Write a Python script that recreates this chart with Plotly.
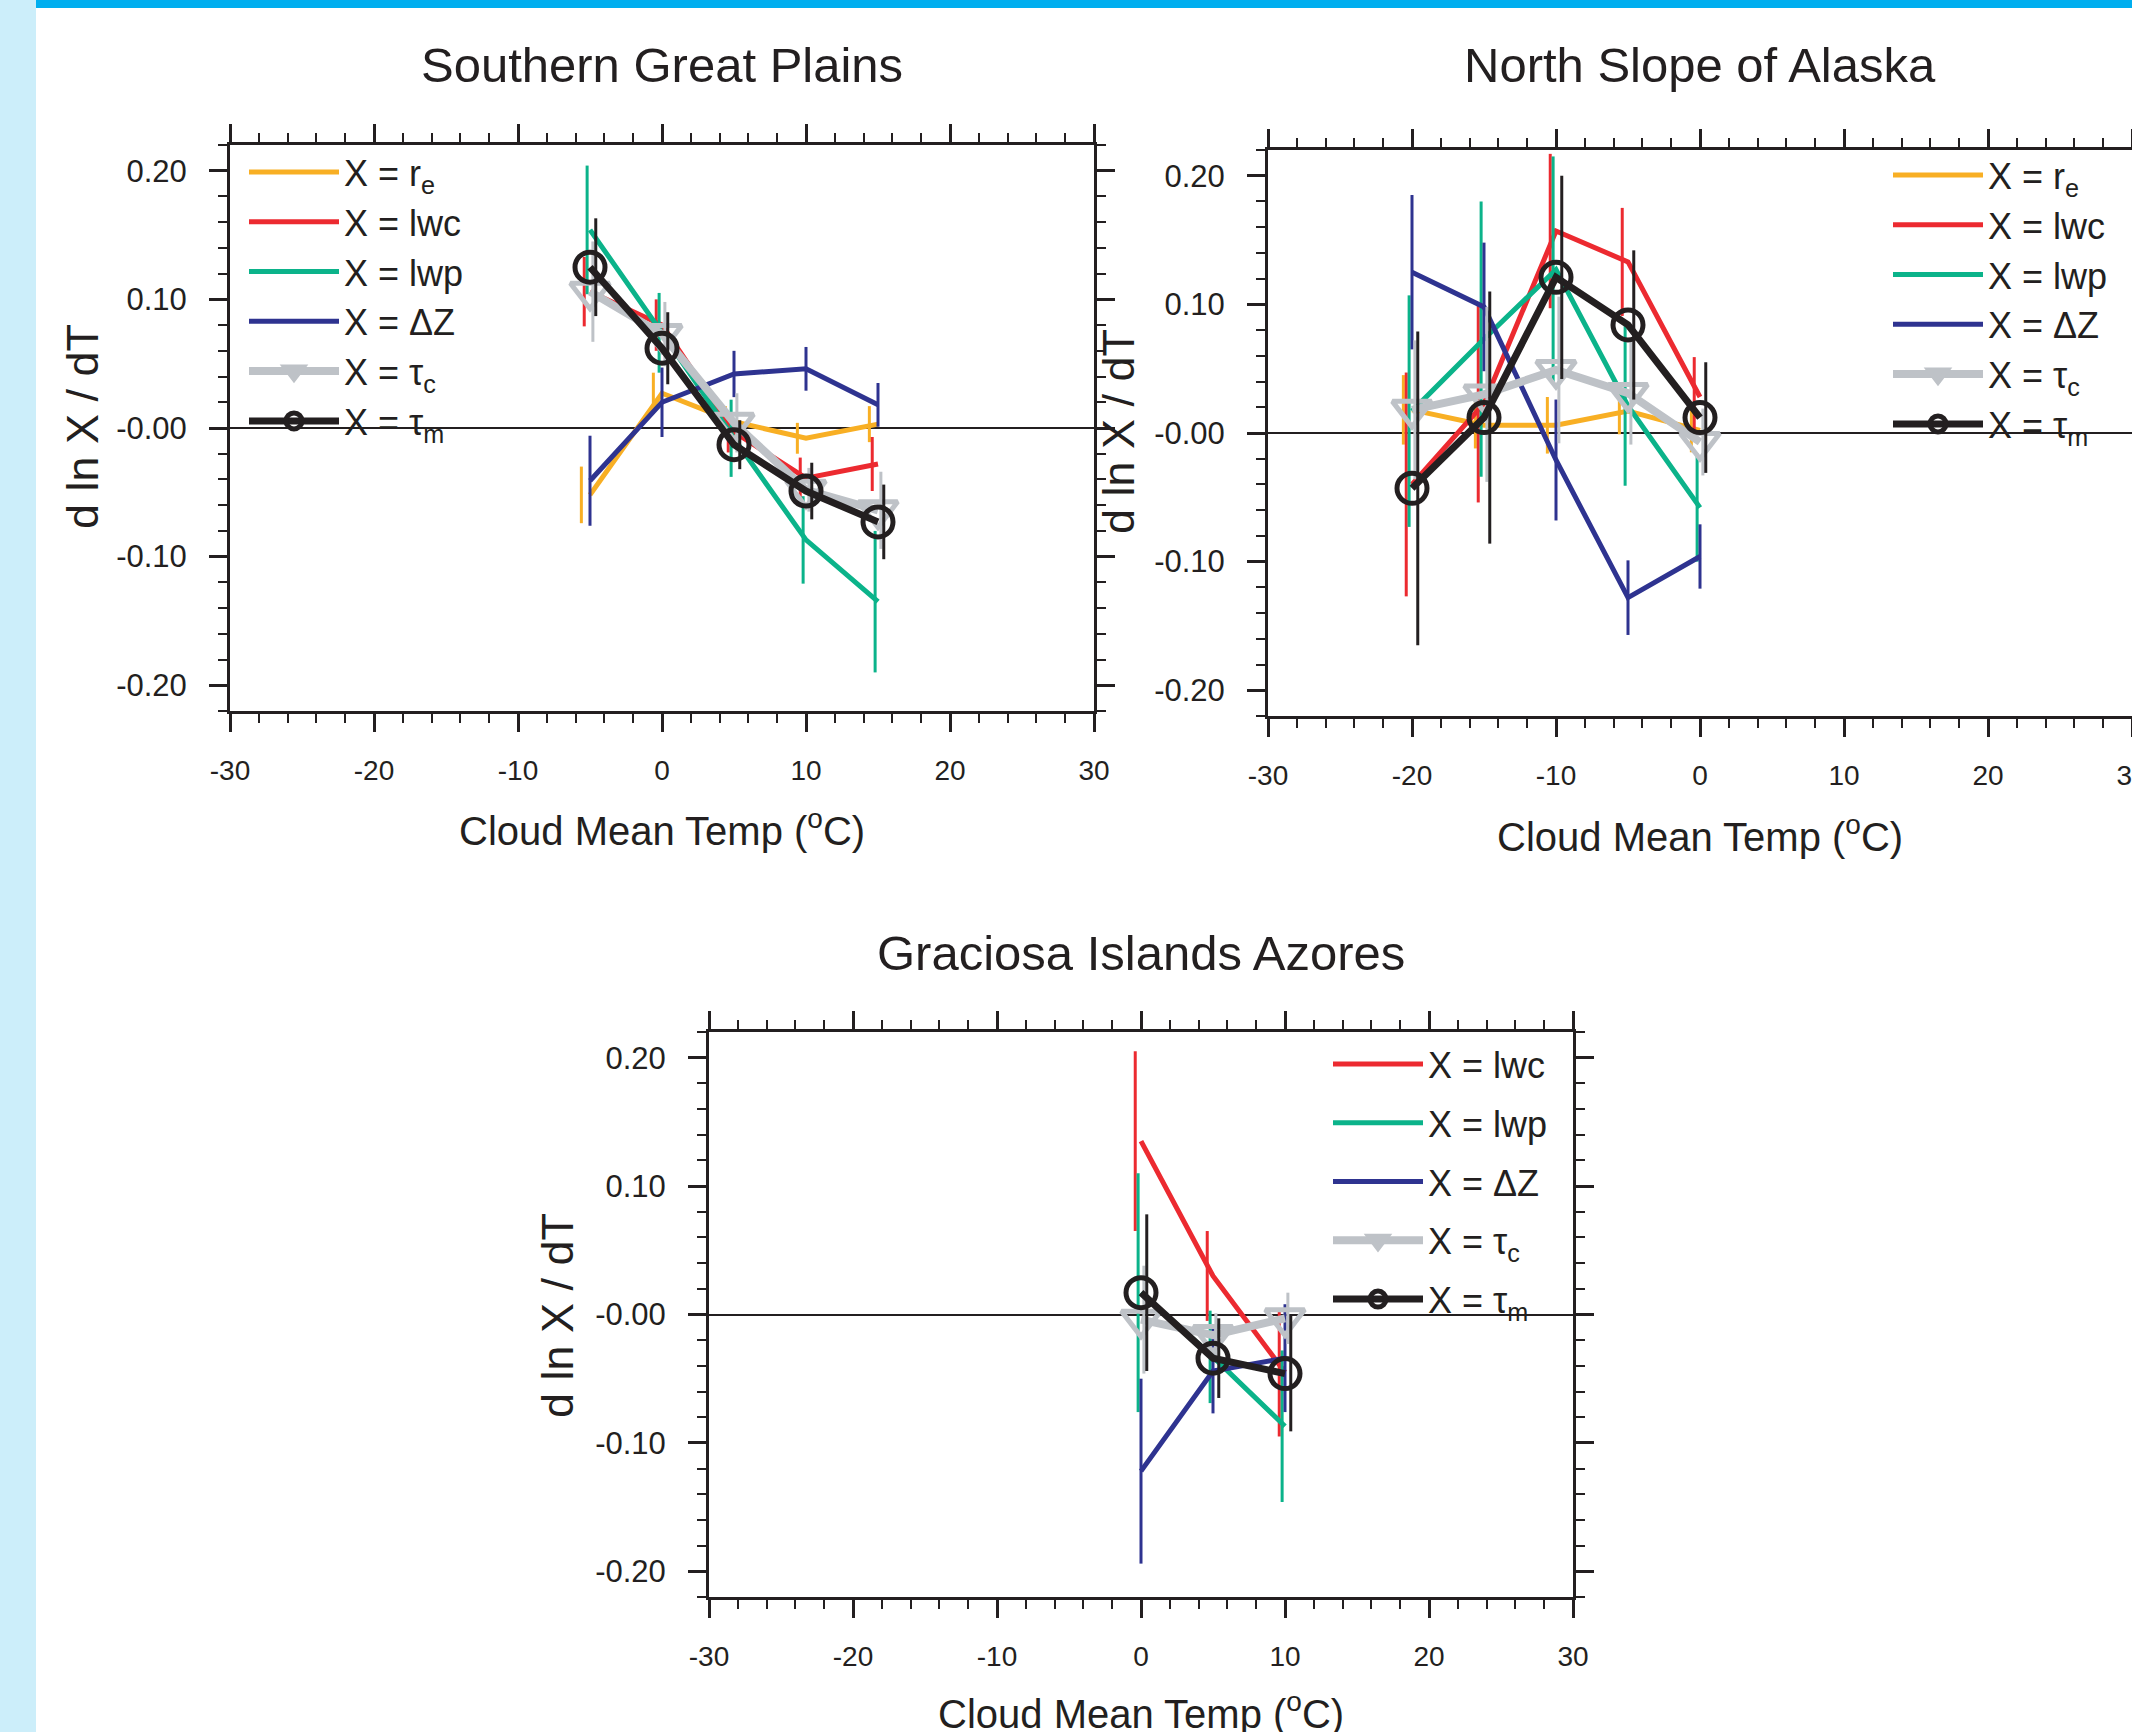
import plotly.graph_objects as go

# ---------------- data ----------------
temps_sgp = [-5, 0, 5, 10, 15]
sgp_re = [-0.052, 0.027, 0.005, -0.008, 0.003]
sgp_re_err = [0.022, 0.016, 0.012, 0.012, 0.014]
sgp_lwc = [0.106, 0.080, -0.003, -0.039, -0.028]
sgp_lwc_err = [0.027, 0.020, 0.016, 0.016, 0.021]
sgp_lwp = [0.154, 0.074, -0.008, -0.087, -0.135]
sgp_lwp_err = [0.050, 0.031, 0.030, 0.034, 0.055]
sgp_dz = [-0.041, 0.020, 0.042, 0.046, 0.018]
sgp_dz_err = [0.035, 0.027, 0.018, 0.017, 0.017]
sgp_tc = [0.106, 0.073, 0.004, -0.048, -0.064]
sgp_tc_err = [0.039, 0.025, 0.023, 0.017, 0.030]
sgp_tm = [0.125, 0.062, -0.013, -0.049, -0.073]
sgp_tm_err = [0.038, 0.028, 0.019, 0.022, 0.029]

temps_nsa = [-20, -15, -10, -5, 0]
nsa_re = [0.018, 0.006, 0.006, 0.017, 0.002]
nsa_re_err = [0.027, 0.018, 0.022, 0.018, 0.017]
nsa_lwc = [-0.040, 0.023, 0.157, 0.133, 0.028]
nsa_lwc_err = [0.087, 0.077, 0.060, 0.042, 0.031]
nsa_lwp = [0.017, 0.073, 0.127, 0.021, -0.058]
nsa_lwp_err = [0.090, 0.107, 0.088, 0.062, 0.042]
nsa_dz = [0.125, 0.098, -0.021, -0.128, -0.096]
nsa_dz_err = [0.060, 0.050, 0.047, 0.029, 0.025]
nsa_tc = [0.018, 0.030, 0.049, 0.031, -0.007]
nsa_tc_err = [0.054, 0.068, 0.057, 0.040, 0.026]
nsa_tm = [-0.043, 0.012, 0.121, 0.084, 0.012]
nsa_tm_err = [0.122, 0.098, 0.079, 0.058, 0.043]

temps_gra = [0, 5, 10]
gra_lwc = [0.135, 0.030, -0.045]
gra_lwc_err = [0.070, 0.035, 0.050]
gra_lwp = [0.017, -0.033, -0.087]
gra_lwp_err = [0.093, 0.036, 0.059]
gra_dz = [-0.122, -0.044, -0.034]
gra_dz_err = [0.072, 0.033, 0.042]
gra_tc = [-0.004, -0.016, -0.003]
gra_tc_err = [0.042, 0.017, 0.020]
gra_tm = [0.017, -0.034, -0.046]
gra_tm_err = [0.061, 0.031, 0.045]

panel_titles = ["Southern Great Plains", "North Slope of Alaska", "Graciosa Islands Azores"]
x_title = "Cloud Mean Temp (<sup>o</sup>C)"
y_title = "d ln X / dT"
x_tickvals = [-30, -20, -10, 0, 10, 20, 30]
x_ticktext = ["-30", "-20", "-10", "0", "10", "20", "30"]
y_tickvals = [-0.2, -0.1, 0.0, 0.1, 0.2]
y_ticktext = ["-0.20", "-0.10", "-0.00", "0.10", "0.20"]

# ---------------- styles ----------------
W, H = 2132, 1732
INK = "#231F20"
FONT = "Liberation Sans, Arial, Helvetica, sans-serif"

STYLES = {
    "re":  dict(name="X = r<sub>e</sub>", color="#F8AF24", width=5, off=-0.6, marker=None),
    "lwc": dict(name="X = lwc", color="#EC2A30", width=5, off=-0.4, marker=None),
    "lwp": dict(name="X = lwp", color="#0BB38A", width=5, off=-0.2, marker=None),
    "dz":  dict(name="X = \u0394Z", color="#2E3390", width=5, off=0.0, marker=None),
    "tc":  dict(name="X = \u03c4<sub>c</sub>", color="#BEC2C7", width=8, off=0.2,
                marker="triangle-down-open", msize=34),
    "tm":  dict(name="X = \u03c4<sub>m</sub>", color=INK, width=7, off=0.4,
                marker="circle-open", msize=30),
}

fig = go.Figure()


def add_series(key, temps, vals, errs, axis_idx, legend):
    st = STYLES[key]
    xa = "x" if axis_idx == 1 else f"x{axis_idx}"
    ya = "y" if axis_idx == 1 else f"y{axis_idx}"
    kw = dict(mode="lines", line=dict(color=st["color"], width=st["width"]))
    if st["marker"]:
        kw["mode"] = "lines+markers"
        kw["marker"] = dict(symbol=st["marker"], size=st["msize"], color=st["color"],
                            line=dict(width=5, color=st["color"]))
    fig.add_trace(go.Scatter(x=temps, y=vals, name=st["name"], legend=legend,
                             legendgroup=f"{legend}-{key}",
                             xaxis=xa, yaxis=ya, hoverinfo="skip", **kw))
    fig.add_trace(go.Scatter(
        x=[t + st["off"] for t in temps], y=vals, mode="markers",
        marker=dict(size=1, color="rgba(0,0,0,0)"),
        error_y=dict(type="data", array=errs, visible=True, color=st["color"],
                     thickness=3, width=0),
        showlegend=False, xaxis=xa, yaxis=ya, hoverinfo="skip"))


add_series("re", temps_sgp, sgp_re, sgp_re_err, 1, "legend")
add_series("lwc", temps_sgp, sgp_lwc, sgp_lwc_err, 1, "legend")
add_series("lwp", temps_sgp, sgp_lwp, sgp_lwp_err, 1, "legend")
add_series("dz", temps_sgp, sgp_dz, sgp_dz_err, 1, "legend")
add_series("tc", temps_sgp, sgp_tc, sgp_tc_err, 1, "legend")
add_series("tm", temps_sgp, sgp_tm, sgp_tm_err, 1, "legend")

add_series("re", temps_nsa, nsa_re, nsa_re_err, 2, "legend2")
add_series("lwc", temps_nsa, nsa_lwc, nsa_lwc_err, 2, "legend2")
add_series("lwp", temps_nsa, nsa_lwp, nsa_lwp_err, 2, "legend2")
add_series("dz", temps_nsa, nsa_dz, nsa_dz_err, 2, "legend2")
add_series("tc", temps_nsa, nsa_tc, nsa_tc_err, 2, "legend2")
add_series("tm", temps_nsa, nsa_tm, nsa_tm_err, 2, "legend2")

add_series("lwc", temps_gra, gra_lwc, gra_lwc_err, 3, "legend3")
add_series("lwp", temps_gra, gra_lwp, gra_lwp_err, 3, "legend3")
add_series("dz", temps_gra, gra_dz, gra_dz_err, 3, "legend3")
add_series("tc", temps_gra, gra_tc, gra_tc_err, 3, "legend3")
add_series("tm", temps_gra, gra_tm, gra_tm_err, 3, "legend3")


def px_x(p):
    return p / W


def px_y(p):
    return 1 - p / H


# plot boxes in pixels: (left, right, top, bottom)
boxes = {1: (230, 1094, 145, 711), 2: (1268, 2132, 150, 716), 3: (709, 1573, 1032, 1597)}

for i, (l, r, t, b) in boxes.items():
    xs = "xaxis" if i == 1 else f"xaxis{i}"
    ys = "yaxis" if i == 1 else f"yaxis{i}"
    anchor_x = "y" if i == 1 else f"y{i}"
    anchor_y = "x" if i == 1 else f"x{i}"
    fig.layout[xs] = dict(
        domain=[px_x(l), min(px_x(r), 1.0)], anchor=anchor_x, range=[-30, 30],
        tickmode="array", tickvals=x_tickvals, ticktext=x_ticktext,
        ticks="outside", ticklen=18,
        tickwidth=2.5, tickcolor=INK, showline=True, linewidth=3, linecolor=INK,
        mirror="allticks", showgrid=False, zeroline=False, automargin=False,
        ticklabeloverflow="allow",
        tickfont=dict(family=FONT, size=28, color=INK), ticklabelstandoff=14,
        minor=dict(tickmode="linear", tick0=0, dtick=2, ticks="outside", ticklen=9,
                   tickwidth=2, tickcolor=INK, showgrid=False),
        fixedrange=True)
    fig.layout[ys] = dict(
        domain=[px_y(b), px_y(t)], anchor=anchor_y, range=[-0.22, 0.22],
        tickmode="array", tickvals=y_tickvals, ticktext=y_ticktext,
        ticks="outside", ticklen=18, tickwidth=2.5, tickcolor=INK,
        showline=True, linewidth=3, linecolor=INK, mirror="allticks",
        showgrid=False, zeroline=True, zerolinecolor=INK, zerolinewidth=1.5,
        automargin=False, ticklabeloverflow="allow",
        tickfont=dict(family=FONT, size=31, color=INK), ticklabelstandoff=16,
        minor=dict(tickmode="linear", tick0=0, dtick=0.02, ticks="outside", ticklen=9,
                   tickwidth=2, tickcolor=INK, showgrid=False),
        fixedrange=True)

annotations = []
title_pos = [(662, 65), (1700, 65), (1141, 953)]
for txt, (x, y) in zip(panel_titles, title_pos):
    annotations.append(dict(text=txt, x=px_x(x), y=px_y(y), xref="paper", yref="paper",
                            xanchor="center", yanchor="middle", showarrow=False,
                            font=dict(family=FONT, size=49, color=INK)))
xt_pos = [(662, 828), (1700, 834), (1141, 1711)]
for (x, y) in xt_pos:
    annotations.append(dict(text=x_title, x=px_x(x), y=px_y(y), xref="paper", yref="paper",
                            xanchor="center", yanchor="middle", showarrow=False,
                            font=dict(family=FONT, size=40, color=INK)))
yt_pos = [(82, 427), (1118, 432), (557, 1316)]
for (x, y) in yt_pos:
    annotations.append(dict(text=y_title, x=px_x(x), y=px_y(y), xref="paper", yref="paper",
                            xanchor="center", yanchor="middle", showarrow=False, textangle=-90,
                            font=dict(family=FONT, size=45, color=INK)))

legend_common = dict(bgcolor="rgba(0,0,0,0)", borderwidth=0, xanchor="left", yanchor="top",
                     font=dict(family=FONT, size=36, color=INK), itemwidth=90,
                     itemclick=False, itemdoubleclick=False)

fig.update_layout(
    width=W, height=H, margin=dict(l=0, r=0, t=0, b=0, autoexpand=False),
    paper_bgcolor="white", plot_bgcolor="white",
    showlegend=True,
    legend=dict(x=px_x(244), y=px_y(142), tracegroupgap=0, **legend_common),
    legend2=dict(x=px_x(1888), y=px_y(145), tracegroupgap=0, **legend_common),
    legend3=dict(x=px_x(1328), y=px_y(1034), tracegroupgap=9, **legend_common),
    annotations=annotations,
    shapes=[
        dict(type="rect", xref="paper", yref="paper", x0=0, x1=px_x(36), y0=0, y1=1,
             fillcolor="#CCEEFA", line=dict(width=0), layer="below"),
        dict(type="rect", xref="paper", yref="paper", x0=px_x(36), x1=1, y0=px_y(8), y1=1,
             fillcolor="#00AEEF", line=dict(width=0), layer="below"),
    ],
)

fig.write_html("out.html", config={"displayModeBar": False},
               post_script="document.body.style.margin='0';document.body.style.overflow='hidden';")
